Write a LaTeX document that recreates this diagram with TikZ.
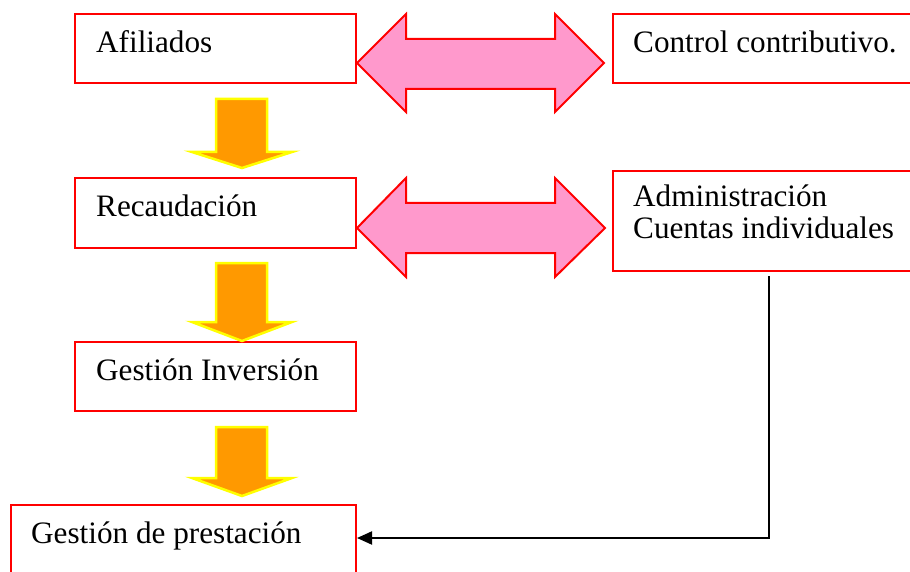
\documentclass[tikz,border=0pt]{standalone}
\usepackage{fontspec}
\setmainfont{Liberation Serif}
\usetikzlibrary{arrows.meta,calc}
\definecolor{boxred}{HTML}{FF0000}
\definecolor{pinkfill}{HTML}{FF99CC}
\definecolor{orangefill}{HTML}{FF9900}
\definecolor{yellowline}{HTML}{FFFF00}
\tikzset{
  box/.style={draw=boxred, line width=2pt, inner sep=0pt, outer sep=0pt, anchor=north west},
  lbl/.style={inner sep=0pt, anchor=base west, font=\fontsize{31.2pt}{36pt}\selectfont},
  pinkarrow/.style={draw=boxred, fill=pinkfill, line width=2pt, line join=miter},
  orangearrow/.style={draw=yellowline, fill=orangefill, line width=2.5pt, line join=miter},
  conn/.style={draw=black, line width=2pt, -{Triangle[length=15pt,width=13pt]}}
}
\begin{document}
\begin{tikzpicture}[x=1pt,y=-1pt]
\useasboundingbox (0,0) rectangle (910,572);
% boxes
\node[box, minimum width=281pt, minimum height=69pt] (afil) at (75,14) {};
\node[box, minimum width=302pt, minimum height=69pt] (ctrl) at (613,14) {};
\node[box, minimum width=281pt, minimum height=70pt] (reca) at (75,178) {};
\node[box, minimum width=302pt, minimum height=100pt] (admin) at (613,171) {};
\node[box, minimum width=281pt, minimum height=69pt] (gest) at (75,342) {};
\node[box, minimum width=345pt, minimum height=80pt] (prest) at (11,505) {};
% labels
\node[lbl] (tafil) at (96,53) {Afiliados};
\node[lbl] (tctrl) at (633,53) {Control contributivo.};
\node[lbl] (treca) at (96,217) {Recaudación};
\node[lbl] (tadm1) at (633,207) {Administración};
\node[lbl] (tadm2) at (633,238) {Cuentas individuales};
\node[lbl] (tgest) at (96,380) {Gestión Inversión};
\node[lbl] (tprest) at (31,543) {Gestión de prestación};
% pink double arrows
\path[pinkarrow] (357,63) -- (406,14) -- (406,39) -- (555,39) -- (555,14) -- (604,63)
  -- (555,112) -- (555,89) -- (406,89) -- (406,112) -- cycle;
\path[pinkarrow] (357,228) -- (406,178) -- (406,203) -- (555,203) -- (555,178) -- (605,228)
  -- (555,277) -- (555,253) -- (406,253) -- (406,277) -- cycle;
% orange down arrows
\path[orangearrow] (216,99) -- (267,99) -- (267,152) -- (292,152) -- (242,168)
  -- (192,152) -- (216,152) -- cycle;
\path[orangearrow] (216,263) -- (267,263) -- (267,322) -- (292,322) -- (242,341)
  -- (192,322) -- (216,322) -- cycle;
\path[orangearrow] (216,427) -- (267,427) -- (267,478) -- (292,478) -- (242,496)
  -- (192,478) -- (216,478) -- cycle;
% connector
\coordinate (cstart) at ($(admin.south west)+(156,5)$);
\draw[conn] (cstart) |- ([yshift=-33pt,xshift=1pt]prest.north east);
\end{tikzpicture}
\end{document}
